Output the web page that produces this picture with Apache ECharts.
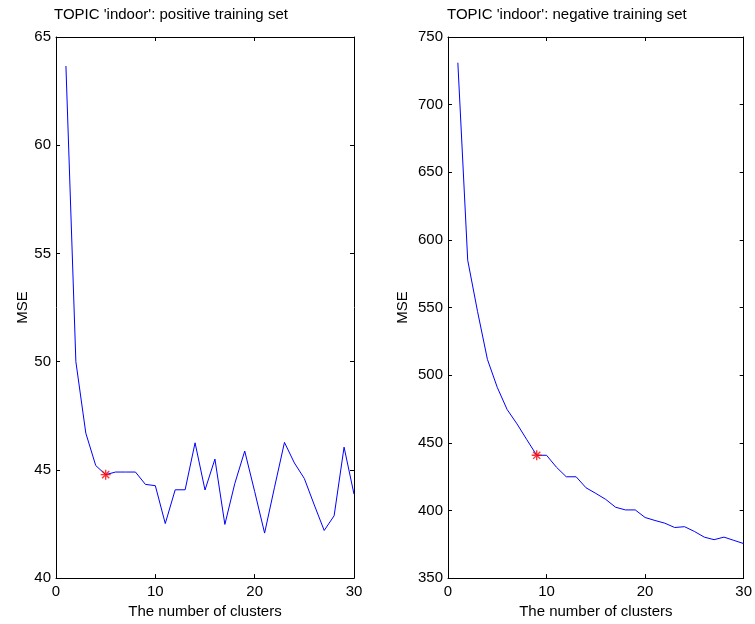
<!DOCTYPE html>
<html>
<head>
<meta charset="utf-8">
<script src="https://cdn.jsdelivr.net/npm/echarts@6/dist/echarts.min.js"></script>
<style>html,body{margin:0;padding:0;background:#fff}#c{width:755px;height:624px}</style>
</head>
<body>
<div id="c"></div>
<script>
const clusters = [1,2,3,4,5,6,7,8,9,10,11,12,13,14,15,16,17,18,19,20,21,22,23,24,25,26,27,28,29,30];
const positiveMSE = [63.66,50.0,46.7,45.2,44.78,44.9,44.9,44.9,44.33,44.27,42.52,44.08,44.08,46.25,44.07,45.5,42.48,44.37,45.87,44.0,42.08,44.2,46.27,45.32,44.6,43.38,42.2,42.88,46.05,43.88];
const negativeMSE = [731,585,547,511.7,491,474.6,464,452.3,440.8,440.8,432,424.9,424.9,416.8,412.6,408.2,402.4,400.4,400.4,394.8,392.6,390.6,387.4,388,384.5,380.3,378.4,380.3,377.9,375.5];
const positiveBestK = 5;
const negativeBestK = 9;
const positiveTitle = "TOPIC 'indoor': positive training set";
const negativeTitle = "TOPIC 'indoor': negative training set";
const xTicks = [0, 10, 20, 30];
const posYRange = [40, 65, 5];
const negYRange = [350, 750, 50];

const FONT = 'Liberation Sans, Arial, Helvetica, sans-serif';
const FS = 15;
const chart = echarts.init(document.getElementById('c'), null, {renderer: 'canvas'});

const star = 'path://M0,-5L0,5M-5,0L5,0M-3.6,-3.6L3.6,3.6M-3.6,3.6L3.6,-3.6';

function xAx(gi, pos) {
  const main = pos === 'bottom';
  return {
    type: 'value', gridIndex: gi, position: pos, min: xTicks[0], max: xTicks[xTicks.length-1], interval: 10,
    axisLine: {show: true, onZero: false, lineStyle: {color: '#000', width: 1}},
    axisTick: {show: true, inside: true, length: 4, lineStyle: {color: '#000'}},
    axisLabel: {show: main, color: '#000', fontFamily: FONT, fontSize: FS, margin: 6},
    splitLine: {show: false},
    name: main ? 'The number of clusters' : '', nameLocation: 'middle', nameGap: 23,
    nameTextStyle: {color: '#000', fontFamily: FONT, fontSize: FS}
  };
}
function yAx(gi, pos, range, gap) {
  const main = pos === 'left';
  return {
    type: 'value', gridIndex: gi, position: pos, min: range[0], max: range[1], interval: range[2],
    axisLine: {show: true, onZero: false, lineStyle: {color: '#000', width: 1}},
    axisTick: {show: true, inside: true, length: 4, lineStyle: {color: '#000'}},
    axisLabel: {show: main, color: '#000', fontFamily: FONT, fontSize: FS, margin: 5},
    splitLine: {show: false},
    name: main ? 'MSE' : '', nameLocation: 'middle', nameGap: gap,
    nameTextStyle: {color: '#000', fontFamily: FONT, fontSize: FS}
  };
}

const posData = clusters.map((k, i) => [k, positiveMSE[i]]);
const negData = clusters.map((k, i) => [k, negativeMSE[i]]);

chart.setOption({
  animation: false,
  backgroundColor: '#fff',
  title: [
    {text: positiveTitle, left: 49, top: 2, textStyle: {color: '#000', fontFamily: FONT, fontSize: FS, fontWeight: 'normal'}},
    {text: negativeTitle, left: 442, top: 2, textStyle: {color: '#000', fontFamily: FONT, fontSize: FS, fontWeight: 'normal'}}
  ],
  grid: [
    {left: 56, right: 401, top: 37, bottom: 42},
    {left: 448, right: 9, top: 37, bottom: 42}
  ],
  xAxis: [xAx(0, 'bottom'), xAx(0, 'top'), xAx(1, 'bottom'), xAx(1, 'top')],
  yAxis: [yAx(0, 'left', posYRange, 26), yAx(0, 'right', posYRange, 0), yAx(1, 'left', negYRange, 38), yAx(1, 'right', negYRange, 0)],
  series: [
    {type: 'line', xAxisIndex: 0, yAxisIndex: 0, data: posData, showSymbol: false, symbol: 'none',
     lineStyle: {color: '#0000ff', width: 1}},
    {type: 'line', xAxisIndex: 2, yAxisIndex: 2, data: negData, showSymbol: false, symbol: 'none',
     lineStyle: {color: '#0000ff', width: 1}},
    {type: 'scatter', xAxisIndex: 0, yAxisIndex: 0, data: [posData[positiveBestK - 1]], symbol: star, symbolSize: 10,
     itemStyle: {color: 'rgba(0,0,0,0)', borderColor: '#ff0000', borderWidth: 1.4}, z: 5},
    {type: 'scatter', xAxisIndex: 2, yAxisIndex: 2, data: [negData[negativeBestK - 1]], symbol: star, symbolSize: 10,
     itemStyle: {color: 'rgba(0,0,0,0)', borderColor: '#ff0000', borderWidth: 1.4}, z: 5}
  ]
});
</script>
</body>
</html>
